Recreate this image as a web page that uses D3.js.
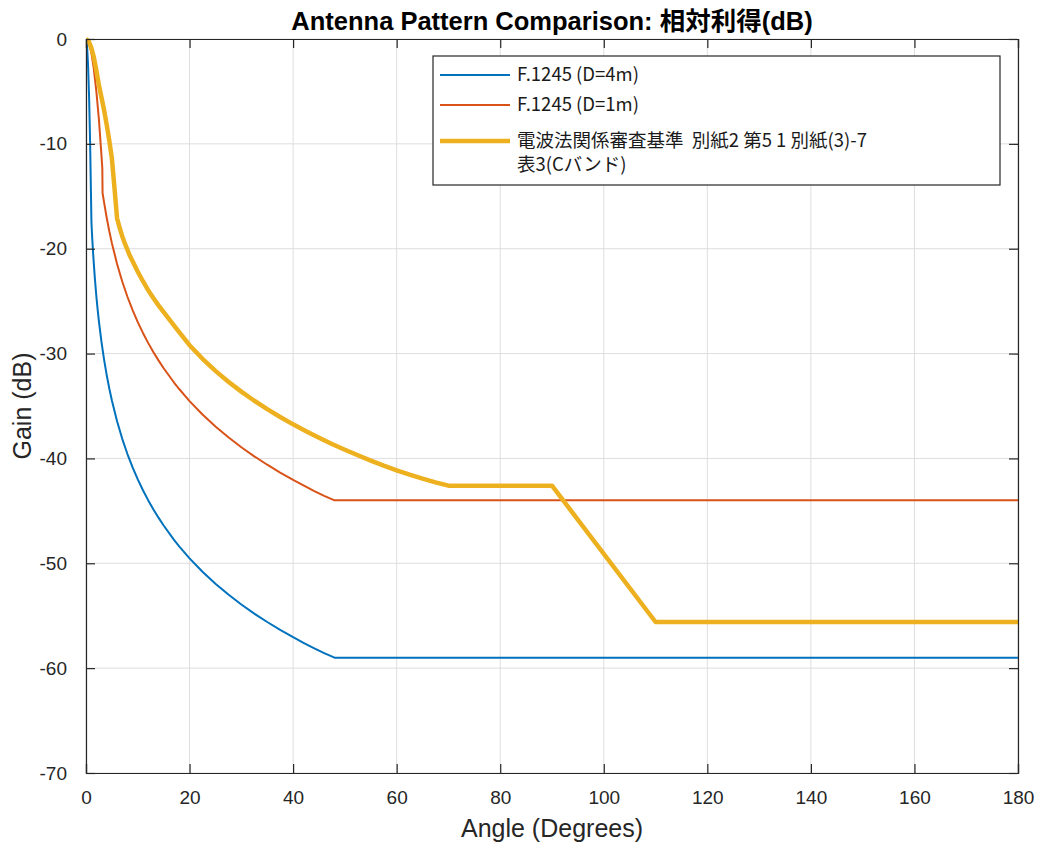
<!DOCTYPE html>
<html>
<head>
<meta charset="utf-8">
<script src="https://cdn.jsdelivr.net/npm/d3@7"></script>
<style>
  body { margin: 0; background: #fff; }
  svg { display: block; font-family: "Liberation Sans", Arial, "Noto Sans CJK JP", sans-serif; }
</style>
</head>
<body>
<svg id="chart" width="1043" height="845"></svg>
<script>
// F.1245 (D=4m): [angle deg, relative gain dB]
var blueAngle = [0, 0.2, 0.4, 0.6, 0.8, 0.95, 1.05, 1.2, 1.4, 1.7, 2, 2.25, 2.5, 3, 3.5, 4, 4.5, 5, 6, 7, 8, 9, 10, 11, 12, 13, 14, 15, 17, 18, 20, 22.5, 25, 27.5, 30, 32.5, 35, 37.5, 40, 42, 44, 46, 48, 180];
var blueGain  = [0, -0.6, -2.5, -5.6, -10, -14.5, -17.5, -18.98, -20.65, -22.76, -24.53, -25.8, -26.95, -28.93, -30.6, -32.05, -33.33, -34.47, -36.45, -38.13, -39.58, -40.86, -42, -43.03, -43.98, -44.85, -45.65, -46.4, -47.76, -48.38, -49.53, -50.81, -51.95, -52.98, -53.93, -54.8, -55.6, -56.35, -57.05, -57.58, -58.09, -58.57, -59, -59];

// F.1245 (D=1m)
var redAngle = [0, 0.5, 1, 1.5, 2, 2.5, 3, 3.15, 3.2, 3.5, 4, 4.5, 5, 6, 7, 8, 9, 10, 11, 12, 13, 14, 15, 17, 18, 20, 22.5, 25, 27.5, 30, 32.5, 35, 37.5, 40, 42, 44, 46, 48, 180];
var redGain  = [0, -0.3, -1.2, -2.8, -5, -7.7, -11.2, -12.3, -14.7, -15.6, -17.05, -18.33, -19.47, -21.45, -23.13, -24.58, -25.86, -27, -28.03, -28.98, -29.85, -30.65, -31.4, -32.76, -33.38, -34.53, -35.81, -36.95, -37.98, -38.93, -39.8, -40.6, -41.35, -42.05, -42.58, -43.09, -43.57, -44, -44];

// 審査基準 Cバンド
var yellowAngle = [0, 0.5, 1, 1.5, 2, 2.5, 3, 3.5, 4, 4.5, 5, 5.5, 6, 6.5, 7, 7.5, 8, 8.5, 9, 9.5, 10, 11, 12, 13, 14, 15, 17.5, 20, 22.5, 25, 27.5, 30, 32.5, 35, 37.5, 40, 42.5, 45, 47.5, 50, 52.5, 55, 57.5, 60, 62.5, 65, 67.5, 70, 90, 110, 180];
var yellowGain  = [0, -0.2, -0.8, -1.7, -3, -4.4, -5.6, -6.8, -8.2, -9.7, -11.4, -14.2, -17.1, -18, -18.8, -19.5, -20.1, -20.7, -21.2, -21.7, -22.2, -23.1, -23.95, -24.7, -25.4, -26.05, -27.65, -29.2, -30.5, -31.65, -32.69, -33.63, -34.5, -35.3, -36.05, -36.75, -37.41, -38.03, -38.62, -39.17, -39.7, -40.21, -40.69, -41.13, -41.55, -41.93, -42.28, -42.6, -42.6, -55.6, -55.6];

var seriesNames = ["F.1245 (D=4m)", "F.1245 (D=1m)", ["電波法関係審査基準\u00a0\u00a0別紙2 第5 1 別紙(3)-7", "表3(Cバンド)"]];
var seriesColors = ["#0072BD", "#D95319", "#EDB120"];
var seriesWidths = [2, 2, 4.5];

var xTicks = [0, 20, 40, 60, 80, 100, 120, 140, 160, 180];
var yTicks = [0, -10, -20, -30, -40, -50, -60, -70];

var margin = { top: 39, right: 25, bottom: 72, left: 86 },
    width = 1043 - margin.left - margin.right,
    height = 845 - margin.top - margin.bottom;

var svg = d3.select('#chart');
var g = svg.append('g').attr('transform', 'translate(' + margin.left + ',' + margin.top + ')');

var x = d3.scaleLinear().domain([0, 180]).range([0, width]);
var y = d3.scaleLinear().domain([-70, 0]).range([height, 0]);

var axisColor = '#262626';

// grid
g.append('g').selectAll('line').data(xTicks).enter().append('line')
    .attr('x1', function (d) { return x(d); }).attr('x2', function (d) { return x(d); })
    .attr('y1', 0).attr('y2', height)
    .attr('stroke', '#dedede').attr('stroke-width', 1);
g.append('g').selectAll('line').data(yTicks).enter().append('line')
    .attr('y1', function (d) { return y(d); }).attr('y2', function (d) { return y(d); })
    .attr('x1', 0).attr('x2', width)
    .attr('stroke', '#dedede').attr('stroke-width', 1);

// series
var series = [
    { xs: blueAngle, ys: blueGain },
    { xs: redAngle, ys: redGain },
    { xs: yellowAngle, ys: yellowGain }
];
var line = d3.line().x(function (d) { return x(d[0]); }).y(function (d) { return y(d[1]); });

g.append('defs').append('clipPath').attr('id', 'clip')
    .append('rect').attr('x', 0).attr('y', -3).attr('width', width).attr('height', height + 3);

series.forEach(function (s, i) {
    var pts = s.xs.map(function (a, j) { return [a, s.ys[j]]; });
    g.append('path').datum(pts)
        .attr('d', line)
        .attr('fill', 'none')
        .attr('stroke', seriesColors[i])
        .attr('stroke-width', seriesWidths[i])
        .attr('stroke-linejoin', 'round')
        .attr('clip-path', 'url(#clip)');
});

// axes (ticks inward, box on)
var tickLen = 9;
var plain = function (d) { return String(d); };   // hyphen minus like the original
var xAxis = d3.axisBottom(x).tickValues(xTicks).tickSize(-tickLen).tickPadding(tickLen + 9).tickFormat(plain);
var yAxis = d3.axisLeft(y).tickValues(yTicks).tickSize(-tickLen).tickPadding(tickLen + 10).tickFormat(plain);

var gx = g.append('g').attr('transform', 'translate(0,' + height + ')').call(xAxis);
var gy = g.append('g').call(yAxis);
var gxt = g.append('g').call(d3.axisTop(x).tickValues(xTicks).tickSize(-tickLen).tickFormat(''));
var gyr = g.append('g').attr('transform', 'translate(' + width + ',0)')
    .call(d3.axisRight(y).tickValues(yTicks).tickSize(-tickLen).tickFormat(''));

[gx, gy, gxt, gyr].forEach(function (a) {
    a.select('.domain').attr('stroke', axisColor).attr('stroke-width', 1.2);
    a.selectAll('.tick line').attr('stroke', axisColor).attr('stroke-width', 1.2);
    a.selectAll('.tick text').attr('fill', axisColor)
        .style('font-size', '19px')
        .style('font-family', '"Liberation Sans", Arial, sans-serif');
});

// title and labels
svg.append('text')
    .attr('x', margin.left + width / 2).attr('y', 30)
    .attr('text-anchor', 'middle')
    .style('font-size', '25.5px').style('font-weight', 'bold')
    .attr('fill', '#000')
    .text('Antenna Pattern Comparison: 相対利得(dB)');

svg.append('text')
    .attr('x', margin.left + width / 2).attr('y', 837)
    .attr('text-anchor', 'middle')
    .style('font-size', '25px')
    .attr('fill', axisColor)
    .text('Angle (Degrees)');

svg.append('text')
    .attr('transform', 'translate(31,' + (margin.top + height / 2) + ') rotate(-90)')
    .attr('text-anchor', 'middle')
    .style('font-size', '25px')
    .attr('fill', axisColor)
    .text('Gain (dB)');

// legend
var legend = svg.append('g').attr('transform', 'translate(433,56)');
legend.append('rect')
    .attr('width', 567).attr('height', 129)
    .attr('fill', '#fff').attr('stroke', axisColor).attr('stroke-width', 1.2);

var rowY = [19, 49, 85];
seriesNames.forEach(function (name, i) {
    legend.append('line')
        .attr('x1', 7).attr('x2', 77)
        .attr('y1', rowY[i]).attr('y2', rowY[i])
        .attr('stroke', seriesColors[i]).attr('stroke-width', seriesWidths[i]);
    var lines = Array.isArray(name) ? name : [name];
    var t = legend.append('text')
        .attr('x', 84).attr('y', rowY[i] + 6)
        .style('font-size', '18.5px')
        .style('font-family', '"Noto Sans CJK JP", "Noto Sans", sans-serif')
        .attr('fill', '#1a1a1a');
    lines.forEach(function (s, k) {
        t.append('tspan').attr('x', 84).attr('dy', k === 0 ? 0 : 24).text(s);
    });
});
</script>
</body>
</html>
